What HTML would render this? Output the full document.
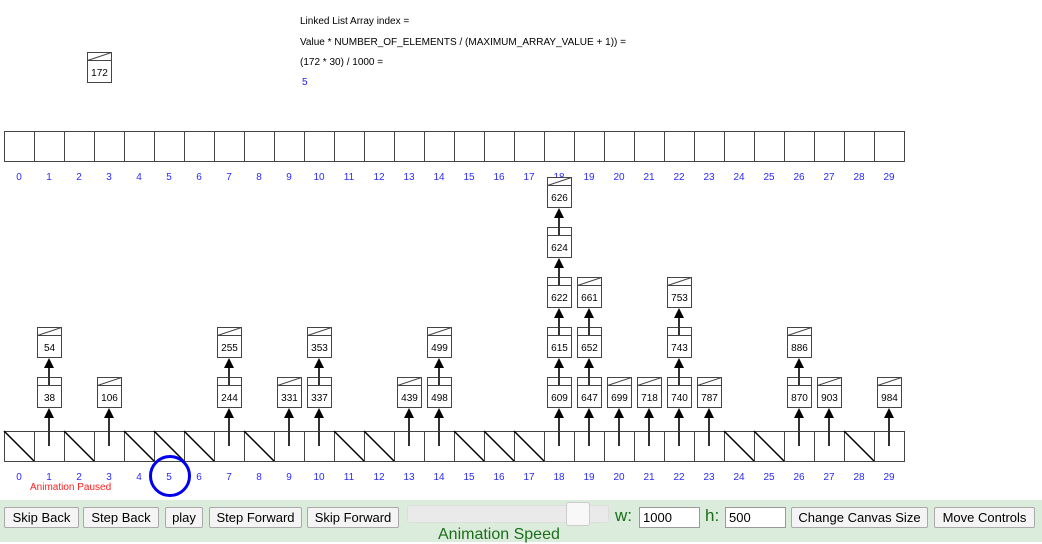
<!DOCTYPE html>
<html><head><meta charset="utf-8"><style>
body{margin:0;width:1042px;height:542px;overflow:hidden;background:#fff;font-family:"Liberation Sans",sans-serif;position:relative}
.bar{position:absolute;left:0;top:500px;width:1042px;height:42px;background:#dcecdc}
.b{position:absolute;top:507px;height:21px;box-sizing:border-box;border:1px solid #aaa;background:#f4f4f4;font-size:13px;line-height:19px;text-align:center;color:#000;border-radius:2px;white-space:nowrap}
.in{position:absolute;top:507px;height:21px;box-sizing:border-box;border:1px solid #999;background:#fff;font-size:13px;line-height:19px;padding-left:3px}
.lb{position:absolute;top:506px;font-size:17px;color:#1a6e1a}
svg text{font-family:"Liberation Sans",sans-serif}
</style></head><body>
<svg width="1042" height="500" style="position:absolute;left:0;top:0">
<g font-size="10" fill="#000">
<text x="300" y="24">Linked List Array index =</text>
<text x="300" y="45" textLength="326" lengthAdjust="spacingAndGlyphs">Value * NUMBER_OF_ELEMENTS / (MAXIMUM_ARRAY_VALUE + 1)) =</text>
<text x="300" y="65">(172 * 30) / 1000 =</text>
<text x="302" y="85" fill="#2020ff">5</text>
</g>
<g fill="#fff" stroke="#444" stroke-width="1">
<rect x="87.5" y="52.5" width="24" height="30"/><line x1="87.5" y1="60.5" x2="111.5" y2="60.5"/><line x1="87.5" y1="60.5" x2="111.5" y2="52.5"/>
</g>
<text x="99.5" y="76" font-size="10" text-anchor="middle">172</text>
<g fill="none" stroke="#444">
<rect x="4.5" y="131.5" width="900" height="30"/>
<path d="M34.5 131.5v30M64.5 131.5v30M94.5 131.5v30M124.5 131.5v30M154.5 131.5v30M184.5 131.5v30M214.5 131.5v30M244.5 131.5v30M274.5 131.5v30M304.5 131.5v30M334.5 131.5v30M364.5 131.5v30M394.5 131.5v30M424.5 131.5v30M454.5 131.5v30M484.5 131.5v30M514.5 131.5v30M544.5 131.5v30M574.5 131.5v30M604.5 131.5v30M634.5 131.5v30M664.5 131.5v30M694.5 131.5v30M724.5 131.5v30M754.5 131.5v30M784.5 131.5v30M814.5 131.5v30M844.5 131.5v30M874.5 131.5v30"/>
<rect x="4.5" y="431.5" width="900" height="30"/>
<path d="M34.5 431.5v30M64.5 431.5v30M94.5 431.5v30M124.5 431.5v30M154.5 431.5v30M184.5 431.5v30M214.5 431.5v30M244.5 431.5v30M274.5 431.5v30M304.5 431.5v30M334.5 431.5v30M364.5 431.5v30M394.5 431.5v30M424.5 431.5v30M454.5 431.5v30M484.5 431.5v30M514.5 431.5v30M544.5 431.5v30M574.5 431.5v30M604.5 431.5v30M634.5 431.5v30M664.5 431.5v30M694.5 431.5v30M724.5 431.5v30M754.5 431.5v30M784.5 431.5v30M814.5 431.5v30M844.5 431.5v30M874.5 431.5v30"/>
</g>
<g stroke="#000" stroke-width="1.5">
<path d="M4 431l30 30M64 431l30 30M124 431l30 30M154 431l30 30M184 431l30 30M244 431l30 30M334 431l30 30M364 431l30 30M454 431l30 30M484 431l30 30M514 431l30 30M724 431l30 30M754 431l30 30M844 431l30 30"/>
</g>
<g font-size="10" fill="#2a2aff" text-anchor="middle">
<text x="19" y="180">0</text><text x="49" y="180">1</text><text x="79" y="180">2</text><text x="109" y="180">3</text><text x="139" y="180">4</text><text x="169" y="180">5</text><text x="199" y="180">6</text><text x="229" y="180">7</text><text x="259" y="180">8</text><text x="289" y="180">9</text><text x="319" y="180">10</text><text x="349" y="180">11</text><text x="379" y="180">12</text><text x="409" y="180">13</text><text x="439" y="180">14</text><text x="469" y="180">15</text><text x="499" y="180">16</text><text x="529" y="180">17</text><text x="559" y="180">18</text><text x="589" y="180">19</text><text x="619" y="180">20</text><text x="649" y="180">21</text><text x="679" y="180">22</text><text x="709" y="180">23</text><text x="739" y="180">24</text><text x="769" y="180">25</text><text x="799" y="180">26</text><text x="829" y="180">27</text><text x="859" y="180">28</text><text x="889" y="180">29</text>
<text x="19" y="480">0</text><text x="49" y="480">1</text><text x="79" y="480">2</text><text x="109" y="480">3</text><text x="139" y="480">4</text><text x="169" y="480">5</text><text x="199" y="480">6</text><text x="229" y="480">7</text><text x="259" y="480">8</text><text x="289" y="480">9</text><text x="319" y="480">10</text><text x="349" y="480">11</text><text x="379" y="480">12</text><text x="409" y="480">13</text><text x="439" y="480">14</text><text x="469" y="480">15</text><text x="499" y="480">16</text><text x="529" y="480">17</text><text x="559" y="480">18</text><text x="589" y="480">19</text><text x="619" y="480">20</text><text x="649" y="480">21</text><text x="679" y="480">22</text><text x="709" y="480">23</text><text x="739" y="480">24</text><text x="769" y="480">25</text><text x="799" y="480">26</text><text x="829" y="480">27</text><text x="859" y="480">28</text><text x="889" y="480">29</text>
</g>
<text x="30" y="490" font-size="10" fill="#ff2020">Animation Paused</text>
<circle cx="170" cy="476" r="19.5" fill="none" stroke="#0000ee" stroke-width="3"/>
<g stroke="#333" stroke-width="2">
<path d="M49 446V416M109 446V416M229 446V416M289 446V416M319 446V416M409 446V416M439 446V416M559 446V416M589 446V416M619 446V416M649 446V416M679 446V416M709 446V416M799 446V416M829 446V416M889 446V416"/>
<path d="M49 382V366M229 382V366M319 382V366M439 382V366M559 382V366M589 382V366M679 382V366M799 382V366"/>
<path d="M559 332V316M589 332V316M679 332V316M559 282V266M559 232V216"/>
</g>
<g fill="#000">
<path d="M49 408l-5 10h10zM109 408l-5 10h10zM229 408l-5 10h10zM289 408l-5 10h10zM319 408l-5 10h10zM409 408l-5 10h10zM439 408l-5 10h10zM559 408l-5 10h10zM589 408l-5 10h10zM619 408l-5 10h10zM649 408l-5 10h10zM679 408l-5 10h10zM709 408l-5 10h10zM799 408l-5 10h10zM829 408l-5 10h10zM889 408l-5 10h10z"/>
<path d="M49 358l-5 10h10zM229 358l-5 10h10zM319 358l-5 10h10zM439 358l-5 10h10zM559 358l-5 10h10zM589 358l-5 10h10zM679 358l-5 10h10zM799 358l-5 10h10z"/>
<path d="M559 308l-5 10h10zM589 308l-5 10h10zM679 308l-5 10h10zM559 258l-5 10h10zM559 208l-5 10h10z"/>
</g>
<g fill="#fff" stroke="#444">
<path d="M37.5 377.5h24v30h-24zM37.5 385.5h24M97.5 377.5h24v30h-24zM97.5 385.5h24M217.5 377.5h24v30h-24zM217.5 385.5h24M277.5 377.5h24v30h-24zM277.5 385.5h24M307.5 377.5h24v30h-24zM307.5 385.5h24M397.5 377.5h24v30h-24zM397.5 385.5h24M427.5 377.5h24v30h-24zM427.5 385.5h24M547.5 377.5h24v30h-24zM547.5 385.5h24M577.5 377.5h24v30h-24zM577.5 385.5h24M607.5 377.5h24v30h-24zM607.5 385.5h24M637.5 377.5h24v30h-24zM637.5 385.5h24M667.5 377.5h24v30h-24zM667.5 385.5h24M697.5 377.5h24v30h-24zM697.5 385.5h24M787.5 377.5h24v30h-24zM787.5 385.5h24M817.5 377.5h24v30h-24zM817.5 385.5h24M877.5 377.5h24v30h-24zM877.5 385.5h24"/>
<path d="M37.5 327.5h24v30h-24zM37.5 335.5h24M217.5 327.5h24v30h-24zM217.5 335.5h24M307.5 327.5h24v30h-24zM307.5 335.5h24M427.5 327.5h24v30h-24zM427.5 335.5h24M547.5 327.5h24v30h-24zM547.5 335.5h24M577.5 327.5h24v30h-24zM577.5 335.5h24M667.5 327.5h24v30h-24zM667.5 335.5h24M787.5 327.5h24v30h-24zM787.5 335.5h24"/>
<path d="M547.5 277.5h24v30h-24zM547.5 285.5h24M577.5 277.5h24v30h-24zM577.5 285.5h24M667.5 277.5h24v30h-24zM667.5 285.5h24M547.5 227.5h24v30h-24zM547.5 235.5h24M547.5 177.5h24v30h-24zM547.5 185.5h24"/>
<path fill="none" d="M97.5 385.5l24-8M277.5 385.5l24-8M397.5 385.5l24-8M607.5 385.5l24-8M637.5 385.5l24-8M697.5 385.5l24-8M817.5 385.5l24-8M877.5 385.5l24-8M37.5 335.5l24-8M217.5 335.5l24-8M307.5 335.5l24-8M427.5 335.5l24-8M787.5 335.5l24-8M577.5 285.5l24-8M667.5 285.5l24-8M547.5 185.5l24-8"/>
</g>
<g stroke="#333" stroke-width="2">
<path d="M49 385V377M229 385V377M319 385V377M439 385V377M559 385V377M589 385V377M679 385V377M799 385V377M559 335V327M589 335V327M679 335V327M559 285V277M559 235V227"/>
</g>
<g font-size="10" text-anchor="middle" fill="#000">
<text x="49.5" y="401">38</text><text x="109.5" y="401">106</text><text x="229.5" y="401">244</text><text x="289.5" y="401">331</text><text x="319.5" y="401">337</text><text x="409.5" y="401">439</text><text x="439.5" y="401">498</text><text x="559.5" y="401">609</text><text x="589.5" y="401">647</text><text x="619.5" y="401">699</text><text x="649.5" y="401">718</text><text x="679.5" y="401">740</text><text x="709.5" y="401">787</text><text x="799.5" y="401">870</text><text x="829.5" y="401">903</text><text x="889.5" y="401">984</text>
<text x="49.5" y="351">54</text><text x="229.5" y="351">255</text><text x="319.5" y="351">353</text><text x="439.5" y="351">499</text><text x="559.5" y="351">615</text><text x="589.5" y="351">652</text><text x="679.5" y="351">743</text><text x="799.5" y="351">886</text>
<text x="559.5" y="301">622</text><text x="589.5" y="301">661</text><text x="679.5" y="301">753</text><text x="559.5" y="251">624</text><text x="559.5" y="201">626</text>
</g>
</svg>
<div class="bar"></div>
<div class="b" style="left:4px;width:75px">Skip Back</div>
<div class="b" style="left:83px;width:76px">Step Back</div>
<div class="b" style="left:165px;width:38px">play</div>
<div class="b" style="left:209px;width:93px">Step Forward</div>
<div class="b" style="left:307px;width:92px">Skip Forward</div>
<div style="position:absolute;left:407px;top:505px;width:200px;height:16px;background:#eaeaea;border:1px solid #ddd;border-radius:3px"></div>
<div style="position:absolute;left:566px;top:502px;width:22px;height:22px;background:#f8f8f8;border:1px solid #ccc;border-radius:3px"></div>
<div class="lb" style="left:615px">w:</div>
<div class="in" style="left:639px;width:61px">1000</div>
<div class="lb" style="left:705px">h:</div>
<div class="in" style="left:725px;width:61px">500</div>
<div class="b" style="left:791px;width:137px">Change Canvas Size</div>
<div class="b" style="left:934px;width:101px">Move Controls</div>
<div style="position:absolute;left:438px;top:526px;font-size:16px;color:#1a6e1a">Animation Speed</div>
</body></html>
